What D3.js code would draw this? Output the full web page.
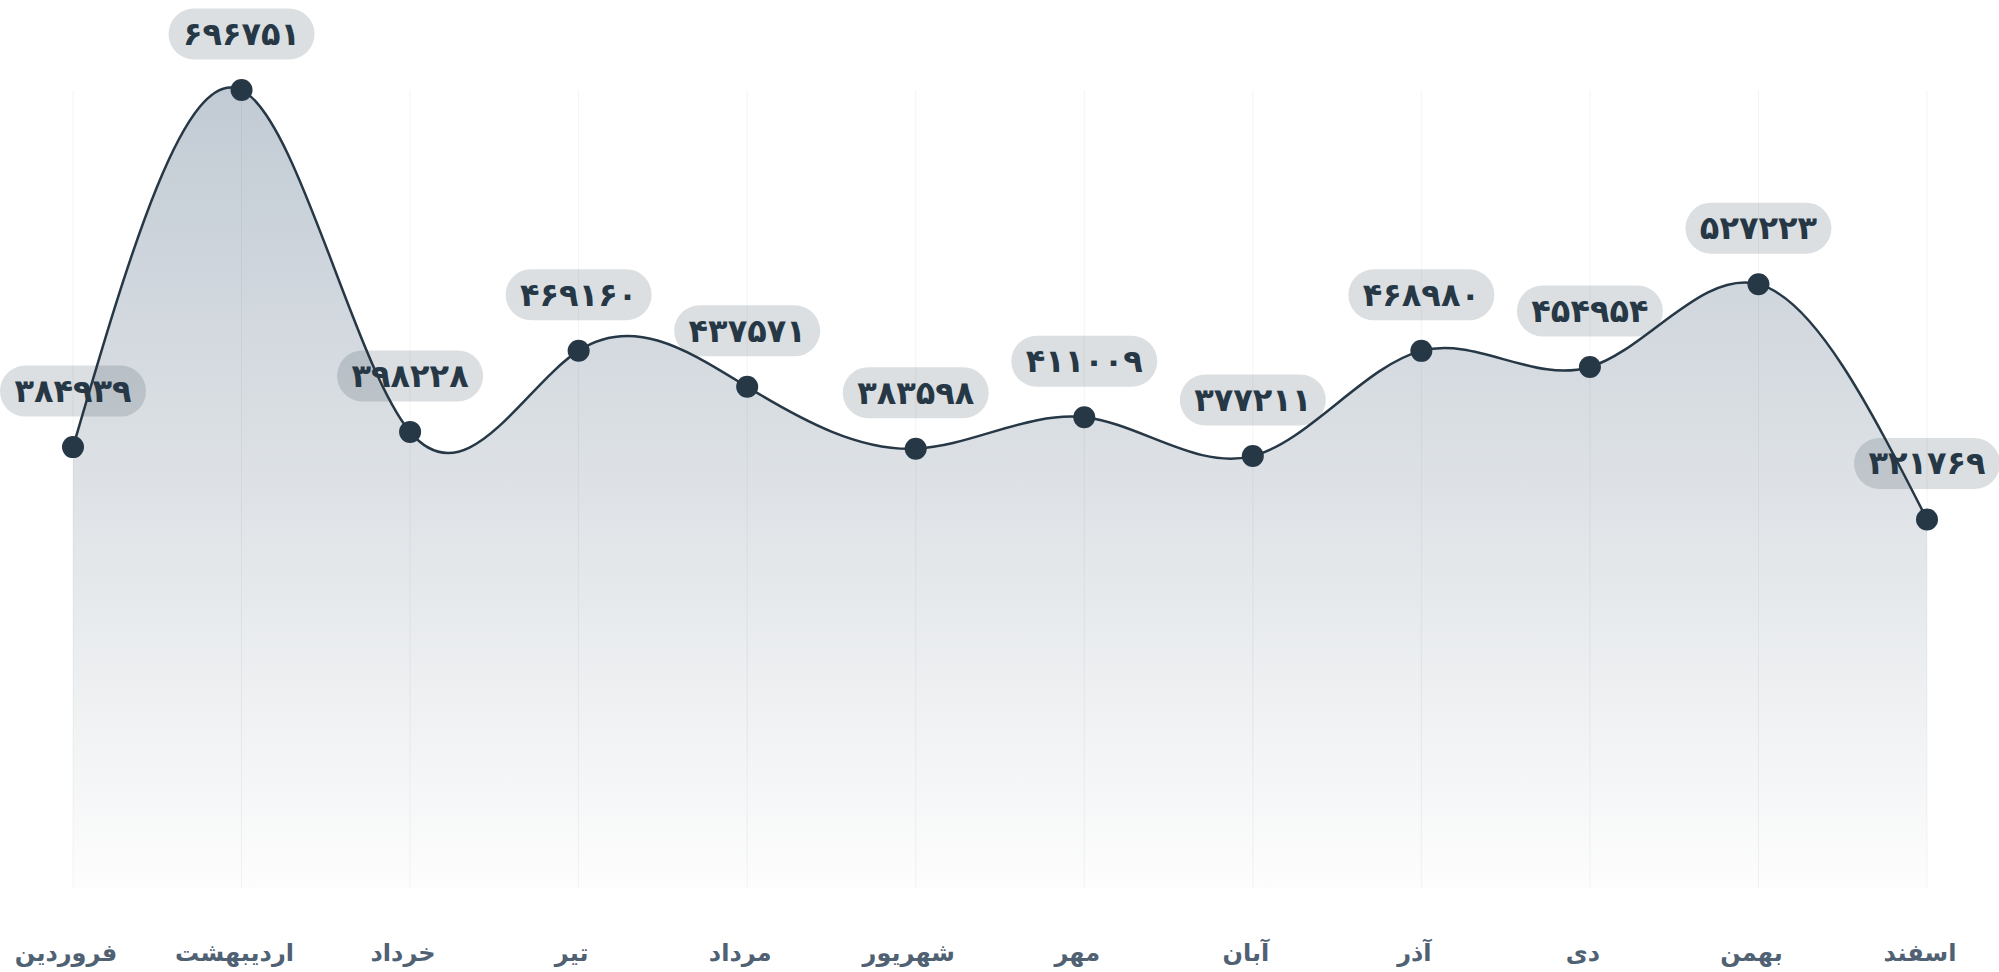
<!DOCTYPE html>
<html lang="fa">
<head>
<meta charset="utf-8">
<script src="https://cdn.jsdelivr.net/npm/d3@7"></script>
<style>
  html, body { margin: 0; padding: 0; background: #ffffff; }
  svg { display: block; }
</style>
</head>
<body>
<svg id="chart" width="1999" height="972"></svg>
<script>
const months = ["فروردین","اردیبهشت","خرداد","تیر","مرداد","شهریور","مهر","آبان","آذر","دی","بهمن","اسفند"];
const values = [384939, 696751, 398228, 469160, 437571, 383598, 411009, 377211, 468980, 454954, 527223, 321769];

const persianDigits = ["۰","۱","۲","۳","۴","۵","۶","۷","۸","۹"];
const toFa = n => String(n).replace(/\d/g, d => persianDigits[+d]);

const svg = d3.select("#chart");
const font = "'DejaVu Sans', sans-serif";

const x = d3.scalePoint().domain(months).range([73, 1927]);
const y = d3.scaleLinear().domain([0, d3.max(values)]).range([888, 90]);

const data = months.map((m, i) => ({ m, v: values[i] }));

const defs = svg.append("defs");
const grad = defs.append("linearGradient")
  .attr("id", "areaGrad").attr("gradientUnits", "userSpaceOnUse")
  .attr("x1", 0).attr("x2", 0).attr("y1", y(d3.max(values))).attr("y2", y(0));
grad.append("stop").attr("offset", 0).attr("stop-color", "#c2cbd4");
grad.append("stop").attr("offset", 0.5).attr("stop-color", "#dee2e6");
grad.append("stop").attr("offset", 1).attr("stop-color", "#fdfdfd");

const curve = d3.curveNatural;

// area
svg.append("path")
  .datum(data)
  .attr("fill", "url(#areaGrad)")
  .attr("d", d3.area().x(d => x(d.m)).y0(y(0)).y1(d => y(d.v)).curve(curve));

// vertical grid
svg.append("g").selectAll("line").data(months).join("line")
  .attr("x1", d => x(d)).attr("x2", d => x(d))
  .attr("y1", y(d3.max(values))).attr("y2", y(0))
  .attr("stroke", "rgba(30,60,80,0.06)").attr("stroke-width", 1);

// line
svg.append("path")
  .datum(data)
  .attr("fill", "none")
  .attr("stroke", "#263746")
  .attr("stroke-width", 2.5)
  .attr("d", d3.line().x(d => x(d.m)).y(d => y(d.v)).curve(curve));

// points
svg.append("g").selectAll("circle").data(data).join("circle")
  .attr("cx", d => x(d.m)).attr("cy", d => y(d.v)).attr("r", 11)
  .attr("fill", "#263746");

// data labels (pills)
const lab = svg.append("g").selectAll("g").data(data).join("g")
  .attr("transform", d => `translate(${x(d.m)},${y(d.v) - 56})`);
lab.append("rect")
  .attr("x", -73).attr("y", -25.5).attr("width", 146).attr("height", 51)
  .attr("rx", 25.5).attr("ry", 25.5)
  .attr("fill", "rgba(38,55,70,0.16)");
lab.append("text")
  .attr("text-anchor", "middle").attr("dominant-baseline", "central")
  .attr("font-family", font).attr("font-weight", "bold").attr("font-size", 32)
  .attr("fill", "#263746")
  .text(d => toFa(d.v));

// x axis labels
svg.append("g").selectAll("text").data(months).join("text")
  .attr("x", d => x(d) - 7).attr("y", 953)
  .attr("text-anchor", "middle").attr("dominant-baseline", "central")
  .attr("font-family", font).attr("font-weight", "bold").attr("font-size", 24)
  .attr("fill", "#4f6173")
  .text(d => d);
</script>
</body>
</html>
